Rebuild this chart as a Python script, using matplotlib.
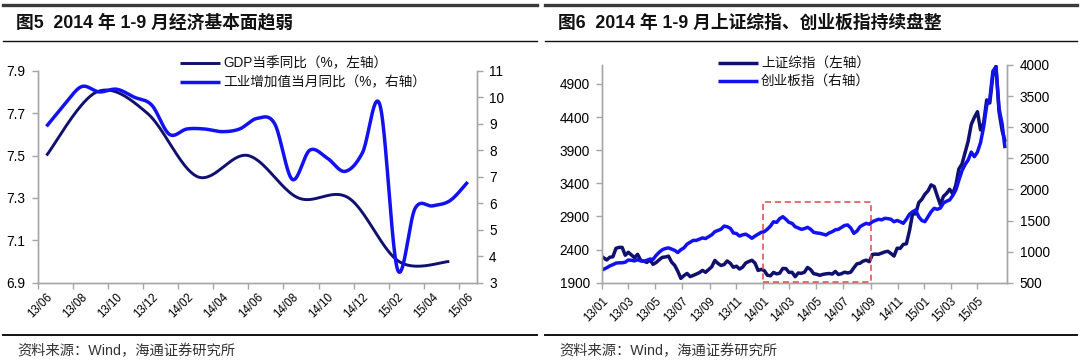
import numpy as np
import pandas as pd
import matplotlib
matplotlib.use('Agg')
import matplotlib.pyplot as plt
import matplotlib.dates as mdates
from matplotlib.lines import Line2D
from matplotlib.patches import Rectangle

plt.rcParams['font.family'] = ['Liberation Sans', 'Noto Sans CJK SC']
plt.rcParams['axes.unicode_minus'] = False

# ---------------- Data: Figure 5 ----------------
months5 = list(pd.period_range('2013-06', '2015-06', freq='M').strftime('%y/%m'))
ip_values = [8.9, 9.7, 10.4, 10.2, 10.3, 10.0, 9.7, 8.6, 8.8, 8.8, 8.7, 8.8,
             9.2, 9.0, 6.9, 8.0, 7.7, 7.2, 7.9, 9.7, 3.5, 5.8, 5.9, 6.1, 6.8]
gdp_quarters = ['13Q2', '13Q3', '13Q4', '14Q1', '14Q2', '14Q3', '14Q4', '15Q1', '15Q2']
gdp_values = [7.5, 7.8, 7.7, 7.4, 7.5, 7.3, 7.3, 7.0, 7.0]
left5_ticks = [6.9, 7.1, 7.3, 7.5, 7.7, 7.9]
right5_ticks = [3, 4, 5, 6, 7, 8, 9, 10, 11]

# ---------------- Data: Figure 6 (weekly) ----------------
dates6 = pd.date_range('2013-01-04', '2015-06-26', freq='W-FRI').append(pd.DatetimeIndex(['2015-07-02']))
sse_values = [
    # 2013
    2276, 2243, 2284, 2292,
    2419, 2433, 2433, 2314,
    2359, 2319, 2278, 2328, 2237,
    2225, 2206, 2245, 2177,
    2205, 2246, 2283, 2288, 2301,
    2211, 2162, 2073, 1965,
    2007, 2040, 1992, 2010,
    2030, 2052, 2086, 2057, 2098,
    2140, 2236, 2191, 2160,
    2174, 2228, 2193, 2133,
    2149, 2106, 2135, 2197, 2220,
    2238, 2196, 2085, 2101,
    # 2014
    2083, 2013, 2004, 2055, 2033,
    2044, 2115, 2113, 2056,
    2057, 1991, 2047, 2041,
    2058, 2130, 2098, 2036,
    2027, 2011, 2026, 2034, 2039,
    2030, 2070, 2024, 2036,
    2059, 2047, 2059, 2126,
    2185, 2194, 2226, 2240, 2217,
    2326, 2331, 2329, 2347,
    2364, 2374, 2341, 2302, 2420,
    2418, 2478, 2487, 2683,
    2938, 2938, 3108, 3158,
    # 2015
    3235, 3285, 3376, 3351, 3210,
    3076, 3203, 3247, 3310,
    3241, 3373, 3617, 3691,
    3863, 4035, 4287, 4394,
    4480, 4206, 4308, 4658, 4612,
    5023, 5166, 4478, 4193,
    4050,
]
cyb_values = [
    # 2013
    716, 740, 770, 790,
    815, 820, 820, 830,
    865, 860, 850, 870, 850,
    845, 860, 880, 875,
    940, 990, 1030, 1050, 1060,
    1040, 1020, 985, 1030,
    1060, 1120, 1150, 1180,
    1180, 1200, 1220, 1210, 1240,
    1270, 1320, 1340, 1360,
    1410, 1400, 1375, 1300,
    1290, 1250, 1270, 1280, 1250,
    1214, 1250, 1280, 1310,
    # 2014
    1320, 1360, 1410, 1480, 1470,
    1530, 1561, 1520, 1470,
    1454, 1400, 1380, 1358,
    1370, 1390, 1360, 1310,
    1300, 1294, 1280, 1267, 1300,
    1320, 1350, 1358, 1390,
    1420, 1428, 1380, 1294,
    1330, 1400, 1430, 1455, 1440,
    1481, 1500, 1520, 1510,
    1535, 1530, 1520, 1480, 1500,
    1480, 1455, 1520, 1600,
    1640, 1669, 1560, 1500,
    # 2015
    1481, 1560, 1640, 1696, 1680,
    1700, 1780, 1810, 1830,
    1900, 1990, 2150, 2300,
    2400, 2473, 2600, 2526,
    2600, 2750, 3000, 3350, 3450,
    3900, 3972, 3300, 3050,
    2690,
]
left6_ticks = [1900, 2400, 2900, 3400, 3900, 4400, 4900]
right6_ticks = [500, 1000, 1500, 2000, 2500, 3000, 3500, 4000]
highlight_period = ('2014-01-01', '2014-09-01')
highlight_range = (1915, 3115)

# ---------------- Styles ----------------
NAVY = '#10106e'
BLUE = '#1212f0'
SPINE = '#a6a6a6'
W, H = 1080, 362

fig = plt.figure(figsize=(W / 100, H / 100), dpi=100)


def fx(px):
    return px / W


def fy(py):
    return 1 - py / H


def excel_smooth(x, y, xlim, ylim, wpx, hpx, n=40):
    """Bezier smoothing like Excel's smoothed line (done in pixel space)."""
    px = (np.asarray(x, float) - xlim[0]) / (xlim[1] - xlim[0]) * wpx
    py = (np.asarray(y, float) - ylim[0]) / (ylim[1] - ylim[0]) * hpx
    P = np.column_stack([px, py])
    E = np.vstack([P[0], P, P[-1]])
    t = np.linspace(0, 1, n)[:, None]
    out = []
    for i in range(len(P) - 1):
        p0, p1, p2, p3 = E[i], E[i + 1], E[i + 2], E[i + 3]
        c1 = p1 + (p2 - p0) / 6
        c2 = p2 - (p3 - p1) / 6
        seg = (1 - t) ** 3 * p1 + 3 * (1 - t) ** 2 * t * c1 + 3 * (1 - t) * t ** 2 * c2 + t ** 3 * p2
        out.append(seg if i == 0 else seg[1:])
    S = np.vstack(out)
    sx = S[:, 0] / wpx * (xlim[1] - xlim[0]) + xlim[0]
    sy = S[:, 1] / hpx * (ylim[1] - ylim[0]) + ylim[0]
    return sx, sy


def style_axes(ax, ax2):
    for a in (ax, ax2):
        a.spines['top'].set_visible(False)
        for s in ('left', 'right', 'bottom'):
            a.spines[s].set_color(SPINE)
            a.spines[s].set_linewidth(1.0)
        a.set_facecolor('none')
    ax.tick_params(axis='y', which='major', direction='out', length=4, width=1,
                   color=SPINE, labelsize=9.8, pad=5, labelcolor='#000000')
    ax2.tick_params(axis='y', which='major', direction='out', length=4, width=1,
                    color=SPINE, labelsize=9.8, pad=5, labelcolor='#000000')


def panel_frame(x0, x1, title):
    fig.add_artist(Line2D([fx(x0), fx(x1)], [fy(5), fy(5)], color='#3a3a3a', lw=2.4))
    fig.add_artist(Line2D([fx(x0), fx(x1)], [fy(40.5), fy(40.5)], color='#111111', lw=1.0))
    fig.add_artist(Line2D([fx(x0), fx(x1)], [fy(334.5), fy(334.5)], color='#111111', lw=1.4))
    fig.text(fx(x0 + 13), fy(23), title, fontsize=12.8, fontweight='bold',
             va='center', ha='left', color='#111111')
    fig.text(fx(x0 + 14), fy(351), '资料来源：Wind，海通证券研究所', fontsize=10.3,
             va='center', ha='left', color='#333333')


def manual_legend(x_line0, x_line1, rows, fs):
    for (yy, color, lw, label) in rows:
        fig.add_artist(Line2D([fx(x_line0), fx(x_line1)], [fy(yy), fy(yy)], color=color, lw=lw,
                              solid_capstyle='butt'))
        fig.text(fx(x_line1 + 3), fy(yy), label, fontsize=fs, va='center', ha='left', color='#111111')


# ================= Figure 5 =================
ax5 = fig.add_axes([fx(37.7), fy(282.7), fx(476.5 - 37.7), (282.7 - 70.7) / H])
ax5b = ax5.twinx()
n5 = len(months5)
xlim5 = (0, n5)
centers = np.arange(n5) + 0.5
gdp_pos = np.linspace(0.5, 23.45, len(gdp_values))

ylim5 = (left5_ticks[0], left5_ticks[-1])
ylim5b = (right5_ticks[0], right5_ticks[-1])
wpx5, hpx5 = 438.8, 212.0

gx, gy = excel_smooth(gdp_pos, gdp_values, xlim5, ylim5, wpx5, hpx5)
ax5.plot(gx, gy, color=NAVY, lw=2.1, solid_capstyle='butt')
ix, iy = excel_smooth(centers, ip_values, xlim5, ylim5b, wpx5, hpx5)
ax5b.plot(ix, iy, color=BLUE, lw=2.5, solid_capstyle='butt')

ax5.set_xlim(*xlim5)
ax5.set_ylim(*ylim5)
ax5b.set_ylim(*ylim5b)
ax5.set_yticks(left5_ticks)
ax5.set_yticklabels([f'{v:.1f}' for v in left5_ticks])
ax5b.set_yticks(right5_ticks)
ax5b.set_yticklabels([str(v) for v in right5_ticks])
ax5.set_xticks(np.arange(0, n5, 2))
ax5.set_xticklabels([])
ax5.set_xticks(centers[::2], minor=True)
ax5.set_xticklabels(months5[::2], minor=True, rotation=45, ha='right', va='top',
                    rotation_mode='anchor', fontsize=8.3)
ax5.tick_params(axis='x', which='major', direction='out', length=4, width=1, color=SPINE)
ax5.tick_params(axis='x', which='minor', length=0, pad=6)
style_axes(ax5, ax5b)

manual_legend(180, 220, [(63, NAVY, 2.1, 'GDP当季同比（%，左轴）'),
                         (82, BLUE, 2.5, '工业增加值当月同比（%，右轴）')], 9.8)
panel_frame(3, 537, '图5  2014 年 1-9 月经济基本面趋弱')

# ================= Figure 6 =================
ax6 = fig.add_axes([fx(602.3), fy(282.7), fx(1007 - 602.3), (282.7 - 65) / H])
ax6b = ax6.twinx()
ax6.plot(dates6, sse_values, color=NAVY, lw=2.5, solid_joinstyle='round')
ax6b.plot(dates6, cyb_values, color=BLUE, lw=2.5, solid_joinstyle='round')

ax6.set_xlim(pd.Timestamp('2013-01-02'), pd.Timestamp('2015-07-07'))
ax6.set_ylim(left6_ticks[0], 5185)
ax6b.set_ylim(right6_ticks[0], right6_ticks[-1])
ax6.set_yticks(left6_ticks)
ax6b.set_yticks(right6_ticks)
tick_dates = pd.date_range('2013-01-01', '2015-05-01', freq='2MS')
ax6.set_xticks(tick_dates)
ax6.set_xticklabels(tick_dates.strftime('%y/%m'), rotation=45, ha='right', va='top',
                    rotation_mode='anchor', fontsize=8.3)
ax6.tick_params(axis='x', which='major', direction='out', length=4, width=1, color=SPINE, pad=5)
style_axes(ax6, ax6b)

h0, h1 = mdates.date2num(pd.Timestamp(highlight_period[0])), mdates.date2num(pd.Timestamp(highlight_period[1]))
rect = Rectangle((h0, highlight_range[0]), h1 - h0, highlight_range[1] - highlight_range[0],
                 transform=ax6.transData, fill=False, edgecolor='#e0474c', lw=1.1,
                 linestyle=(0, (4, 2.5)), zorder=10)
ax6b.add_patch(rect)

manual_legend(718, 758, [(62.5, NAVY, 2.5, '上证综指（左轴）'),
                         (81, BLUE, 2.5, '创业板指（右轴）')], 9.8)
panel_frame(545, 1077, '图6  2014 年 1-9 月上证综指、创业板指持续盘整')

fig.savefig('out.png', dpi=100)
